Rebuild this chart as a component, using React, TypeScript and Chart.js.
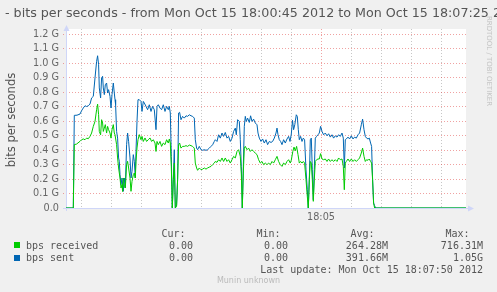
import React, { useEffect, useRef } from 'react';
import { Chart, registerables } from 'chart.js';

Chart.register(...registerables);

// ---- data (seconds after 18:00:45, values in Gbit/s) ----
const sentT = [0, 7.3, 8.3, 11, 14, 15.6, 17.3, 19, 20.6, 22.3, 24, 25.6, 27.3, 29, 30.6, 31.6, 32.6, 33.3, 34.6, 35.6, 36.6, 37.3, 38.3, 39.3, 40.6, 41.6, 42.6, 44, 45, 46, 47.3, 48.3, 49, 49.6, 50.6, 51.6, 52.6, 53.3, 54, 55, 56, 57.3, 58.3, 59.3, 60.6, 61.6, 62.6, 64, 65, 66, 67.3, 68.3, 69.3, 70, 71, 72, 73.3, 75, 76, 77.3, 78.3, 80, 81.6, 83.3, 85, 86.6, 88.3, 90, 91, 92.3, 94, 95.6, 97.3, 99, 100.6, 102.3, 103.3, 104.3, 105.3, 106.3, 107.3, 108.3, 109.3, 110.6, 111.6, 112.6, 113.6, 115, 116.6, 118.3, 120, 121.6, 123.3, 125, 126.6, 128.3, 129.3, 130.6, 131.6, 133.3, 135, 136.6, 138.3, 140, 141.6, 143.3, 145, 146.6, 148.3, 149.3, 151, 152.6, 154.3, 156, 157.6, 159.3, 161, 162.6, 164.3, 166, 167.6, 169.3, 170.3, 171.6, 173.3, 174.3, 175.3, 176.3, 177.3, 178.3, 179.3, 180.3, 181.6, 183.3, 184.6, 186, 187.6, 189.3, 191, 192, 193.3, 195, 196.6, 198.3, 200, 201.6, 203.3, 205, 206.6, 208.3, 210, 211, 212, 213.3, 214.6, 216, 217.6, 219.3, 221, 222.6, 224, 225.3, 226.5, 227.6, 228.8, 230.3, 231.3, 232.3, 233.3, 234.6, 236, 237.3, 238.6, 240, 241.3, 242.3, 243.3, 244.3, 245.3, 246.3, 247.3, 248.3, 249.3, 250.6, 252, 253.3, 254.6, 256, 257.6, 259.3, 261, 262.6, 264.3, 266, 267.6, 269.3, 271, 272.6, 274.3, 276, 277.3, 278.3, 279.3, 280.3, 282, 283.6, 285.3, 287, 288.6, 290.3, 292, 293.6, 295.3, 296.6, 298, 299.3, 300.6, 302, 303.3, 304.6, 305.6, 306.6, 307.6, 308.6, 309.6, 400];
const sentV = [0, 0, 0.639, 0.64, 0.648, 0.671, 0.69, 0.705, 0.7, 0.705, 0.717, 0.759, 0.77, 0.897, 1.011, 1.05, 0.988, 0.828, 0.759, 0.897, 0.908, 0.828, 0.782, 0.85, 0.862, 0.793, 0.816, 0.77, 0.69, 0.782, 0.862, 0.793, 0.747, 0.713, 0.528, 0.482, 0.345, 0.322, 0.23, 0.161, 0.207, 0.115, 0.207, 0.138, 0.437, 0.517, 0.46, 0.345, 0.207, 0.253, 0.368, 0.322, 0.207, 0.391, 0.597, 0.747, 0.747, 0.735, 0.666, 0.735, 0.724, 0.701, 0.678, 0.712, 0.666, 0.701, 0.678, 0.54, 0.701, 0.712, 0.689, 0.678, 0.712, 0.666, 0.701, 0.678, 0.701, 0.655, 0.356, 0, 0.195, 0.402, 0, 0.023, 0.195, 0.655, 0.66, 0.609, 0.632, 0.62, 0.636, 0.632, 0.643, 0.636, 0.632, 0.62, 0.471, 0.413, 0.402, 0.425, 0.402, 0.398, 0.402, 0.398, 0.402, 0.413, 0.425, 0.436, 0.459, 0.471, 0.459, 0.505, 0.482, 0.517, 0.494, 0.521, 0.482, 0.494, 0.459, 0.482, 0.528, 0.551, 0.505, 0.609, 0.597, 0.471, 0.287, 0, 0.287, 0.563, 0.632, 0.597, 0.62, 0.59, 0.636, 0.597, 0.613, 0.586, 0.574, 0.517, 0.482, 0.459, 0.476, 0.448, 0.471, 0.437, 0.459, 0.452, 0.459, 0.482, 0.517, 0.551, 0.505, 0.471, 0.459, 0.437, 0.471, 0.448, 0.476, 0.494, 0.459, 0.51, 0.605, 0.54, 0.575, 0.643, 0.632, 0.54, 0.471, 0.494, 0.459, 0.482, 0.471, 0.264, 0.126, 0, 0.195, 0.471, 0.482, 0.264, 0.057, 0.264, 0.482, 0.494, 0.505, 0.517, 0.563, 0.528, 0.505, 0.517, 0.498, 0.512, 0.489, 0.505, 0.482, 0.498, 0.489, 0.505, 0.494, 0.517, 0.482, 0.276, 0.471, 0.476, 0.489, 0.476, 0.498, 0.476, 0.489, 0.482, 0.505, 0.517, 0.574, 0.613, 0.54, 0.494, 0.482, 0.476, 0.482, 0.448, 0.425, 0.195, 0.034, 0.016, 0, 0];

const recvT = [0, 7.3, 8.3, 10.6, 14, 15.6, 17.3, 19, 20.6, 22.3, 24, 25.6, 27.3, 29, 30.6, 31.6, 32.6, 33.3, 34.6, 35.6, 36.6, 37.3, 38.3, 39.3, 40.6, 41.6, 42.6, 44, 45, 46, 47.3, 48.3, 49, 49.6, 50.6, 51.6, 52.6, 54, 55, 56, 56.6, 57.3, 58.3, 59.3, 60.6, 61.6, 62.6, 64, 65, 66, 67.3, 68.3, 69.3, 70, 71, 72, 73.3, 75, 76, 77.3, 79, 80.6, 82.3, 84, 85.6, 87.3, 89, 90, 91, 92.3, 94, 95.6, 97.3, 99, 100.6, 102.3, 103.3, 104.3, 105.3, 106.3, 107.3, 108.3, 109.3, 110.6, 111.6, 112.6, 113.6, 115, 116.6, 118.3, 120, 121.6, 123.3, 125, 126.6, 128.3, 129.3, 130.6, 131.6, 133.3, 135, 136.6, 138.3, 140, 141.6, 143.3, 145, 146.6, 148.3, 149.3, 151, 152.6, 154.3, 156, 157.6, 159.3, 161, 162.6, 164.3, 166, 167.6, 169.3, 171, 172.6, 174.3, 175.3, 176.3, 177.3, 178.3, 179.3, 181, 182.6, 184.3, 186, 187.6, 189.3, 191, 192.6, 194.3, 196, 197.6, 199.3, 201, 202.6, 204.3, 206, 207.6, 209.3, 211, 212.6, 214.3, 216, 217.6, 219.3, 221, 222.6, 224.3, 225.3, 226.8, 228, 229.3, 230.6, 232, 233.3, 234.6, 236, 237.3, 238.6, 240, 241.3, 242.3, 243.3, 244.3, 245.3, 246.3, 247.3, 248.3, 249.3, 250.6, 252, 253.3, 254.6, 256, 257.6, 259.3, 261, 262.6, 264.3, 266, 267.6, 269.3, 271, 272.6, 274.3, 276, 277.3, 278.3, 279.3, 280.3, 282, 283.6, 285.3, 287, 288.6, 290.3, 292, 293.6, 295.3, 296.6, 298, 299.3, 300.6, 302, 303.3, 304.6, 305.6, 306.6, 307.6, 308.6, 400];
const recvV = [0, 0, 0.437, 0.441, 0.46, 0.471, 0.476, 0.471, 0.482, 0.478, 0.494, 0.517, 0.563, 0.597, 0.678, 0.716, 0.644, 0.528, 0.505, 0.609, 0.586, 0.528, 0.551, 0.575, 0.517, 0.563, 0.54, 0.517, 0.482, 0.54, 0.575, 0.517, 0.505, 0.505, 0.437, 0.345, 0.276, 0.207, 0.138, 0.161, 0.115, 0.207, 0.149, 0.138, 0.299, 0.322, 0.276, 0.207, 0.115, 0.184, 0.23, 0.241, 0.207, 0.322, 0.414, 0.471, 0.506, 0.471, 0.494, 0.459, 0.483, 0.459, 0.471, 0.483, 0.459, 0.471, 0.448, 0.39, 0.459, 0.437, 0.459, 0.425, 0.448, 0.437, 0.471, 0.448, 0.476, 0.448, 0.287, 0, 0.195, 0.31, 0, 0.012, 0.195, 0.437, 0.448, 0.413, 0.425, 0.425, 0.43, 0.425, 0.434, 0.43, 0.425, 0.413, 0.31, 0.276, 0.26, 0.276, 0.264, 0.268, 0.276, 0.268, 0.276, 0.282, 0.287, 0.299, 0.31, 0.321, 0.315, 0.333, 0.321, 0.345, 0.321, 0.345, 0.321, 0.333, 0.31, 0.333, 0.356, 0.345, 0.39, 0.402, 0.356, 0.241, 0, 0.241, 0.413, 0.425, 0.402, 0.413, 0.39, 0.402, 0.39, 0.379, 0.368, 0.333, 0.31, 0.321, 0.299, 0.31, 0.299, 0.31, 0.299, 0.321, 0.31, 0.333, 0.356, 0.321, 0.299, 0.287, 0.31, 0.299, 0.321, 0.333, 0.31, 0.33, 0.39, 0.42, 0.395, 0.425, 0.368, 0.31, 0.321, 0.31, 0.321, 0.31, 0.195, 0.08, 0, 0.195, 0.321, 0.31, 0.195, 0.046, 0.195, 0.321, 0.333, 0.338, 0.338, 0.375, 0.338, 0.333, 0.338, 0.321, 0.338, 0.321, 0.333, 0.321, 0.333, 0.321, 0.345, 0.333, 0.338, 0.287, 0.126, 0.31, 0.321, 0.338, 0.321, 0.338, 0.321, 0.333, 0.321, 0.333, 0.345, 0.379, 0.413, 0.356, 0.321, 0.333, 0.329, 0.338, 0.321, 0.31, 0.195, 0.034, 0, 0];

const yTickValues = [0, 0.1, 0.2, 0.3, 0.4, 0.5, 0.6, 0.7, 0.8, 0.9, 1.0, 1.1, 1.2];
const xGridSeconds = [15, 45, 75, 105, 135, 165, 195, 225, 255, 285, 315, 345, 375];
const xMajorSecond = 255;
const xMajorLabel = '18:05';

const titleText = '- bits per seconds - from Mon Oct 15 18:00:45 2012 to Mon Oct 15 18:07:25 2012';
const yAxisTitle = 'bits per seconds';
const seriesNames = ['bps received', 'bps sent'];
const seriesColors = ['#00CC00', '#0066B3'];
const curValues = ['0.00', '0.00'];
const minValues = ['0.00', '0.00'];
const avgValues = ['264.28M', '391.66M'];
const maxValues = ['716.31M', '1.05G'];
const lastUpdate = 'Last update: Mon Oct 15 18:07:50 2012';
const footerText = 'Munin unknown';
const watermarkText = 'RRDTOOL / TOBI OETIKER';

const W = 497;
const H = 292;
const SANS = '"DejaVu Sans", "Liberation Sans", sans-serif';
const MONO = '"DejaVu Sans Mono", "Liberation Mono", monospace';
const TXT = '#555555';
const AXIS = '#CFD6F8';
const MGRID = 'rgba(222,48,47,0.45)';
const GRID = 'rgba(143,143,143,0.5)';

const rrdPlugin = {
  id: 'rrd',
  beforeDraw(chart: any) {
    const { ctx, chartArea } = chart;
    ctx.save();
    ctx.fillStyle = '#FFFFFF';
    ctx.fillRect(chartArea.left, chartArea.top, chartArea.right - chartArea.left, chartArea.bottom - chartArea.top);
    ctx.restore();
  },
  beforeDatasetsDraw(chart: any) {
    const { ctx, chartArea } = chart;
    const x0 = chartArea.left + 0.5;
    const y0 = chartArea.bottom + 0.5;
    ctx.save();
    ctx.strokeStyle = AXIS;
    ctx.fillStyle = AXIS;
    ctx.lineWidth = 1;
    ctx.beginPath();
    ctx.moveTo(x0, chartArea.bottom + 3);
    ctx.lineTo(x0, chartArea.top - 1);
    ctx.moveTo(chartArea.left - 3, y0);
    ctx.lineTo(chartArea.right + 3, y0);
    ctx.stroke();
    ctx.beginPath();
    ctx.moveTo(x0, chartArea.top - 4);
    ctx.lineTo(x0 - 3, chartArea.top + 2);
    ctx.lineTo(x0 + 3, chartArea.top + 2);
    ctx.closePath();
    ctx.fill();
    ctx.beginPath();
    ctx.moveTo(chartArea.right + 8, y0);
    ctx.lineTo(chartArea.right + 2, y0 - 3);
    ctx.lineTo(chartArea.right + 2, y0 + 3);
    ctx.closePath();
    ctx.fill();
    ctx.restore();
  },
};

function ChartCanvas() {
  const ref = useRef<HTMLCanvasElement | null>(null);
  useEffect(() => {
    if (!ref.current) return;
    const chart = new Chart(ref.current, {
      type: 'line',
      data: {
        datasets: [
          {
            label: seriesNames[0],
            data: recvT.map((t, i) => ({ x: t, y: recvV[i] })),
            borderColor: seriesColors[0],
            backgroundColor: seriesColors[0],
            borderWidth: 1,
            pointRadius: 0,
            tension: 0,
            fill: false,
          },
          {
            label: seriesNames[1],
            data: sentT.map((t, i) => ({ x: t, y: sentV[i] })),
            borderColor: seriesColors[1],
            backgroundColor: seriesColors[1],
            borderWidth: 1,
            pointRadius: 0,
            tension: 0,
            fill: false,
          },
        ],
      },
      options: {
        animation: false,
        responsive: false,
        devicePixelRatio: 1,
        events: [],
        layout: { padding: { left: 0, top: 29, right: 31, bottom: 0 } },
        plugins: { legend: { display: false }, tooltip: { enabled: false }, title: { display: false } },
        scales: {
          x: {
            type: 'linear',
            min: 0,
            max: 400,
            afterBuildTicks: (scale: any) => {
              scale.ticks = xGridSeconds.map((v) => ({ value: v }));
            },
            afterFit: (scale: any) => {
              scale.height = 84;
            },
            grid: {
              color: (c: any) => (c.tick && c.tick.value === xMajorSecond ? MGRID : GRID),
              lineWidth: 1,
              drawTicks: true,
              tickLength: 3,
              tickColor: (c: any) => (c.tick && c.tick.value === xMajorSecond ? MGRID : 'rgba(0,0,0,0)'),
              tickBorderDash: [1, 2],
            },
            border: { display: false, dash: [1, 2] },
            ticks: {
              autoSkip: false,
              maxRotation: 0,
              minRotation: 0,
              padding: 1,
              color: '#666666',
              font: { family: SANS, size: 9.7 },
              callback: (v: any) => (v === xMajorSecond ? xMajorLabel : ''),
            },
          },
          y: {
            type: 'linear',
            min: 0,
            max: 1.2345,
            afterBuildTicks: (scale: any) => {
              scale.ticks = yTickValues.map((v) => ({ value: v }));
            },
            afterFit: (scale: any) => {
              scale.width = 66;
            },
            grid: {
              color: MGRID,
              lineWidth: 1,
              drawTicks: true,
              tickLength: 3,
              tickColor: MGRID,
              tickBorderDash: [1, 2],
            },
            border: { display: false, dash: [1, 2] },
            ticks: {
              padding: 4,
              color: '#666666',
              font: { family: SANS, size: 9.7 },
              callback: (v: any) => {
                const n = Math.round(Number(v) * 10) / 10;
                return n === 0 ? '0.0' : n.toFixed(1) + ' G';
              },
            },
          },
        },
      },
      plugins: [rrdPlugin],
    } as any);
    return () => chart.destroy();
  }, []);
  return (
    <canvas
      ref={ref}
      width={W}
      height={H}
      style={{ position: 'absolute', left: 0, top: 0, width: W, height: H }}
    />
  );
}

function T(props: { x?: number; right?: number; top: number; size: number; font: string; color?: string; children: React.ReactNode }) {
  const style: any = {
    position: 'absolute',
    top: props.top,
    fontFamily: props.font,
    fontSize: props.size,
    lineHeight: 1,
    whiteSpace: 'pre',
    color: props.color || TXT,
  };
  if (props.right !== undefined) style.right = W - props.right;
  else style.left = props.x;
  return <div style={style}>{props.children}</div>;
}

export default function App() {
  const rowTops = [240.5, 252.5];
  const boxTops = [242, 255];
  return (
    <div
      style={{
        position: 'absolute',
        left: 0,
        top: 0,
        width: W,
        height: H,
        background: '#F0F0F0',
        overflow: 'hidden',
      }}
    >
      <ChartCanvas />
      <T x={5} top={7.3} size={12.7} font={SANS}>{titleText}</T>
      <div
        style={{
          position: 'absolute',
          left: 10.5 - 60,
          top: 120 - 6,
          width: 120,
          height: 12,
          lineHeight: '12px',
          textAlign: 'center',
          fontFamily: SANS,
          fontSize: 11.5,
          color: TXT,
          transform: 'rotate(-90deg)',
          whiteSpace: 'nowrap',
        }}
      >
        {yAxisTitle}
      </div>
      <div
        style={{
          position: 'absolute',
          left: 488.5 - 60,
          top: 61 - 4,
          width: 120,
          height: 8,
          lineHeight: '8px',
          textAlign: 'center',
          fontFamily: SANS,
          fontSize: 7,
          color: '#C4C4C4',
          transform: 'rotate(90deg)',
          whiteSpace: 'nowrap',
        }}
      >
        {watermarkText}
      </div>
      <T right={185.5} top={228.5} size={10} font={MONO}>Cur:</T>
      <T right={280.5} top={228.5} size={10} font={MONO}>Min:</T>
      <T right={374.5} top={228.5} size={10} font={MONO}>Avg:</T>
      <T right={469.5} top={228.5} size={10} font={MONO}>Max:</T>
      {seriesNames.map((name, i) => (
        <React.Fragment key={name}>
          <div
            style={{
              position: 'absolute',
              left: 14,
              top: boxTops[i],
              width: 6,
              height: 6,
              background: seriesColors[i],
            }}
          />
          <T x={26} top={rowTops[i]} size={10} font={MONO}>{name}</T>
          <T right={193} top={rowTops[i]} size={10} font={MONO}>{curValues[i]}</T>
          <T right={288} top={rowTops[i]} size={10} font={MONO}>{minValues[i]}</T>
          <T right={388} top={rowTops[i]} size={10} font={MONO}>{avgValues[i]}</T>
          <T right={483} top={rowTops[i]} size={10} font={MONO}>{maxValues[i]}</T>
        </React.Fragment>
      ))}
      <T right={483} top={264.5} size={10} font={MONO}>{lastUpdate}</T>
      <div
        style={{
          position: 'absolute',
          left: 0,
          top: 277,
          width: W,
          textAlign: 'center',
          fontFamily: SANS,
          fontSize: 8,
          lineHeight: 1,
          color: '#BBBBBB',
          whiteSpace: 'nowrap',
        }}
      >
        {footerText}
      </div>
    </div>
  );
}
